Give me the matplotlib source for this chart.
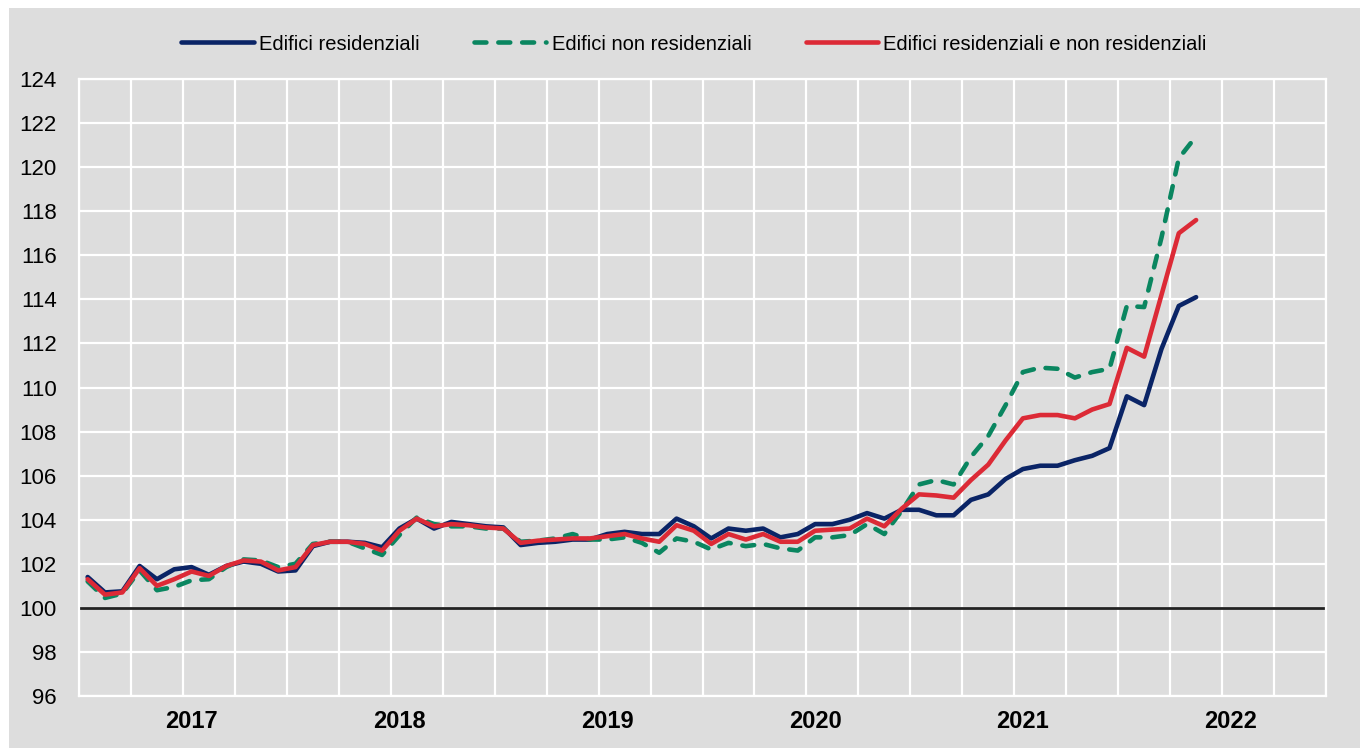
import matplotlib
matplotlib.use("Agg")
import matplotlib.pyplot as plt
from matplotlib.patches import Rectangle
from matplotlib.ticker import FixedLocator
import numpy as np

plt.rcParams['font.family'] = ['Liberation Sans Narrow', 'Liberation Sans', 'DejaVu Sans']

# monthly index, starting July 2016 (category positions on a monthly axis)
residenziali = [101.4, 100.7, 100.75, 101.9, 101.3, 101.75, 101.85, 101.5, 101.9, 102.1,
                102.0, 101.65, 101.7, 102.8, 103.0, 103.0, 102.95, 102.75, 103.6, 104.05,
                103.6, 103.9, 103.8, 103.7, 103.65, 102.85, 102.95, 103.0, 103.1, 103.1,
                103.35, 103.45, 103.35, 103.35, 104.05, 103.7, 103.15, 103.6, 103.5, 103.6,
                103.2, 103.35, 103.8, 103.8, 104.0, 104.3, 104.05, 104.45, 104.45, 104.2,
                104.2, 104.9, 105.15, 105.85, 106.3, 106.45, 106.45, 106.7, 106.9, 107.25,
                109.6, 109.2, 111.75, 113.7, 114.1]
non_residenziali = [101.2, 100.45, 100.65, 101.7, 100.8, 100.95, 101.25, 101.3, 101.85, 102.2,
                    102.15, 101.85, 102.0, 102.9, 103.0, 103.0, 102.7, 102.4, 103.3, 104.1,
                    103.8, 103.7, 103.7, 103.6, 103.6, 103.0, 103.05, 103.15, 103.35, 103.1,
                    103.1, 103.2, 102.95, 102.5, 103.15, 103.0, 102.65, 102.95, 102.8, 102.9,
                    102.7, 102.6, 103.2, 103.2, 103.3, 103.8, 103.35, 104.4, 105.6, 105.8,
                    105.6, 106.85, 107.8, 109.2, 110.7, 110.9, 110.85, 110.45, 110.7, 110.85,
                    113.7, 113.65, 116.8, 120.4, 121.4]
totale = [101.3, 100.6, 100.7, 101.8, 101.0, 101.3, 101.65, 101.45, 101.9, 102.15,
          102.1, 101.7, 101.85, 102.85, 103.0, 103.0, 102.9, 102.6, 103.5, 104.05,
          103.7, 103.8, 103.75, 103.65, 103.6, 102.95, 103.05, 103.1, 103.15, 103.15,
          103.25, 103.35, 103.15, 103.0, 103.75, 103.5, 102.9, 103.35, 103.1, 103.35,
          103.0, 103.0, 103.5, 103.55, 103.6, 104.05, 103.7, 104.5, 105.15, 105.1,
          105.0, 105.8, 106.5, 107.6, 108.6, 108.75, 108.75, 108.6, 109.0, 109.25,
          111.8, 111.4, 114.2, 117.0, 117.6]

anni = ['2017', '2018', '2019', '2020', '2021', '2022']
n_mesi_asse = 72           # July 2016 - June 2022
pos_anni = [6, 18, 30, 42, 54, 66]   # January of each year
serie_nomi = ['Edifici residenziali', 'Edifici non residenziali',
              'Edifici residenziali e non residenziali']

BG = '#DDDDDD'
C_BLUE = '#0A2466'
C_GREEN = '#0A8660'
C_RED = '#DC2A36'

fig = plt.figure(figsize=(13.6, 7.48), dpi=100, facecolor='white')
fig.patches.append(Rectangle((9 / 1360, 0), 1 - 9 / 1360, 1 - 8 / 748,
                             transform=fig.transFigure, facecolor=BG,
                             edgecolor='none', zorder=-10))

ax = fig.add_axes([79 / 1360, 1 - 696 / 748, (1326 - 79) / 1360, (696 - 79) / 748])
ax.set_facecolor(BG)

x = np.arange(len(residenziali))
ax.set_xlim(-0.5, n_mesi_asse - 0.5)
ax.set_ylim(96, 124)

# grid
ax.set_yticks(np.arange(96, 125, 2))
ax.xaxis.set_minor_locator(FixedLocator(np.arange(-0.5, n_mesi_asse, 3)))
ax.set_xticks(pos_anni)
ax.set_xticklabels(anni)
ax.grid(which='major', axis='y', color='white', linewidth=1.6)
ax.grid(which='minor', axis='x', color='white', linewidth=1.6)
ax.grid(which='major', axis='x', visible=False)
ax.set_axisbelow(True)
for s in ax.spines.values():
    s.set_color('white')
    s.set_linewidth(1.6)

ax.tick_params(axis='both', which='both', length=0)
ax.tick_params(axis='y', labelsize=16, pad=16)
ax.tick_params(axis='x', labelsize=17, pad=10)
for lab in ax.get_xticklabels():
    lab.set_fontweight('bold')

ax.axhline(100, color='#222222', linewidth=2.0, zorder=2)

lw = 3.3
ax.plot(x, residenziali, color=C_BLUE, linewidth=lw, solid_capstyle='round',
        solid_joinstyle='round', label=serie_nomi[0], zorder=3)
ax.plot(x, non_residenziali, color=C_GREEN, linewidth=lw, linestyle=(0, (2.6, 2.6)),
        dash_capstyle='round', dash_joinstyle='round', label=serie_nomi[1], zorder=3)
ax.plot(x, totale, color=C_RED, linewidth=lw, solid_capstyle='round',
        solid_joinstyle='round', label=serie_nomi[2], zorder=4)

fig.legend(loc='center', bbox_to_anchor=(694 / 1360, 1 - 44 / 748), ncol=3,
           frameon=False, fontsize=14.5, handlelength=3.6, handletextpad=0.25,
           columnspacing=2.7)

fig.savefig('out.png', dpi=100, facecolor=fig.get_facecolor())
